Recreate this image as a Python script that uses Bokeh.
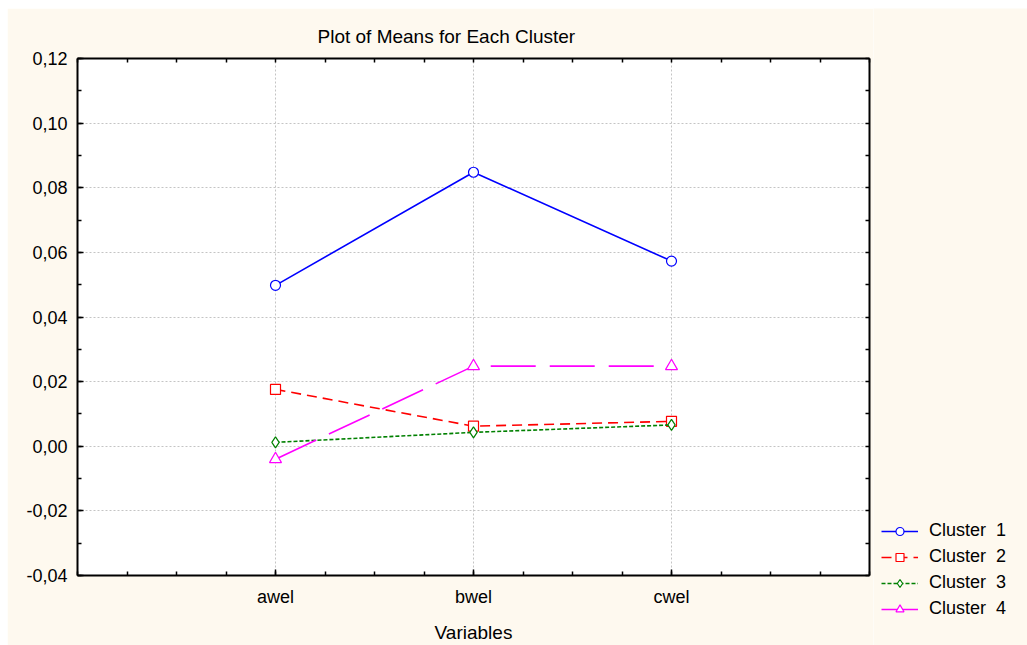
from bokeh.plotting import figure
from bokeh.layouts import row
from bokeh.models import Range1d, FixedTicker, LinearAxis, Legend, LegendItem
from bokeh.embed import file_html
from bokeh.resources import INLINE

# ---- data ----
categories = ["awel", "bwel", "cwel"]
cluster_1 = [0.0498, 0.0848, 0.0573]
cluster_2 = [0.0176, 0.0062, 0.0077]
cluster_3 = [0.0012, 0.0043, 0.0066]
cluster_4 = [-0.0040, 0.0248, 0.0248]
series_labels = ["Cluster  1", "Cluster  2", "Cluster  3", "Cluster  4"]
y_ticks = [-0.04, -0.02, 0.0, 0.02, 0.04, 0.06, 0.08, 0.10, 0.12]
y_tick_labels = ["-0,04", "-0,02", "0,00", "0,02", "0,04", "0,06", "0,08", "0,10", "0,12"]
title_text = "Plot of Means for Each Cluster"
x_title = "Variables"

# ---- styles ----
FONT = "Liberation Sans"
CREAM = "#FEF9EF"
colors = ["#0000FF", "#FF0000", "#008000", "#FF00FF"]
dashes = ["solid", "10 6", "4 2", "45 14"]
markers = ["circle", "square", "diamond", "triangle"]
msizes = [10, 10, 11, 12]

xs = [i + 1 for i in range(len(categories))]
x_minor = [k * 0.25 for k in range(0, 17)]
y_minor = [round(-0.04 + k * 0.01, 2) for k in range(0, 17)]
series = [cluster_1, cluster_2, cluster_3, cluster_4]

p = figure(width=866, height=637,
           x_range=Range1d(0, len(categories) + 1), y_range=Range1d(-0.04, 0.12),
           output_backend="svg", toolbar_location=None,
           min_border_left=70, min_border_right=4,
           min_border_top=50, min_border_bottom=70)
p.margin = (8, 0, 0, 7)
p.frame_align = False
p.background_fill_color = "white"
p.border_fill_color = CREAM
p.outline_line_color = None

p.title.text = title_text
p.title.text_font = FONT
p.title.text_font_size = "19px"
p.title.text_font_style = "normal"
p.title.text_color = "black"
p.title.align = "left"
p.title.offset = 240
p.title.standoff = 24

# bottom axis
xa = p.xaxis[0]
xa.ticker = FixedTicker(ticks=xs, minor_ticks=x_minor)
xa.major_label_overrides = {x: c for x, c in zip(xs, categories)}
xa.axis_label = x_title

ya = p.yaxis[0]
ya.ticker = FixedTicker(ticks=y_ticks, minor_ticks=y_minor)
ya.major_label_overrides = {t: l for t, l in zip(y_ticks, y_tick_labels)}

for ax in (xa, ya):
    ax.axis_line_width = 2
    ax.axis_line_color = "black"
    ax.major_tick_in = 6
    ax.major_tick_out = 0
    ax.minor_tick_in = 4
    ax.minor_tick_out = 0
    ax.major_tick_line_color = "black"
    ax.minor_tick_line_color = "black"
    ax.major_tick_line_width = 1.5
    ax.minor_tick_line_width = 1.5
    ax.major_label_text_font = FONT
    ax.major_label_text_font_size = "18px"
    ax.major_label_text_color = "black"
    ax.axis_label_text_font = FONT
    ax.axis_label_text_font_size = "19px"
    ax.axis_label_text_font_style = "normal"
    ax.axis_label_text_color = "black"
xa.major_label_standoff = 11
xa.axis_label_standoff = 12
ya.major_label_standoff = 10

# top and right axes (ticks only)
top = LinearAxis(ticker=FixedTicker(ticks=[], minor_ticks=x_minor))
right = LinearAxis(ticker=FixedTicker(ticks=[], minor_ticks=y_minor))
for ax in (top, right):
    ax.axis_line_width = 2
    ax.axis_line_color = "black"
    ax.minor_tick_in = 4
    ax.minor_tick_out = 0
    ax.minor_tick_line_width = 1.5
    ax.major_tick_in = 0
    ax.major_tick_out = 0
    ax.major_label_standoff = 0
p.add_layout(top, "above")
p.add_layout(right, "right")

p.grid.grid_line_color = "#C4C4C4"
p.grid.grid_line_dash = "2 2"
p.grid.grid_line_width = 1
p.xgrid.ticker = FixedTicker(ticks=xs)
p.ygrid.ticker = FixedTicker(ticks=y_ticks[1:-1])

for vals, col, dsh, mk, ms in zip(series, colors, dashes, markers, msizes):
    p.line(xs, vals, line_color=col, line_width=1.6, line_dash=dsh)
    p.scatter(xs, vals, marker=mk, size=ms, fill_color="white",
              line_color=col, line_width=1.2)

# ---- legend strip to the right of the plot ----
# (same series drawn with an x range that keeps them out of view; only the legend shows)
pl = figure(width=154, height=637, x_range=Range1d(-3, -2), y_range=Range1d(-0.04, 0.12),
            x_axis_type=None, y_axis_type=None,
            output_backend="svg", toolbar_location=None, min_border=0)
pl.margin = (8, 0, 0, 0)
pl.frame_align = False
pl.background_fill_color = CREAM
pl.border_fill_color = CREAM
pl.outline_line_color = None
pl.grid.visible = False

items = []
for vals, lab, col, dsh, mk, ms in zip(series, series_labels, colors, dashes, markers, msizes):
    lr = pl.line(xs, vals, line_color=col, line_width=1.6, line_dash=dsh)
    sr = pl.scatter(xs, vals, marker=mk, size=ms, fill_color="white",
                    line_color=col, line_width=1.2)
    items.append(LegendItem(label=lab, renderers=[lr, sr]))

legend = Legend(items=items, location=(8, 26), orientation="vertical",
                padding=0, margin=0, spacing=5, glyph_width=37, glyph_height=20,
                label_height=20, label_standoff=11,
                label_text_font=FONT, label_text_font_size="18px",
                label_text_color="black",
                background_fill_alpha=0, border_line_alpha=0)
pl.add_layout(legend, "center")

layout = row(p, pl, spacing=0)
open("out.html", "w").write(file_html(layout, INLINE))
